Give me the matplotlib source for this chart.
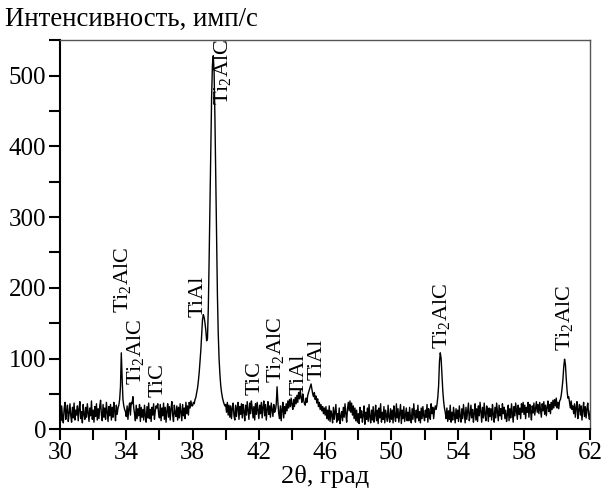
import numpy as np
import matplotlib.pyplot as plt

# measurement grid: 30..62 deg, step 0.05
two_theta = np.round(np.arange(30.0, 62.0001, 0.05), 2)

# intensity, one row per degree (20 points each)
intensity = [
    24, 12, 33, 18, 9, 29, 38, 14, 26, 34, 11, 22, 36, 19, 10, 31, 16, 37, 13, 27,  # 30
    20, 33, 12, 29, 39, 15, 25, 9, 35, 21, 14, 31, 17, 36, 23, 11, 30, 19, 40, 14,  # 31
    27, 10, 32, 18, 36, 13, 29, 15, 33, 41, 20, 12, 35, 17, 30, 14, 38, 24, 11, 32,  # 32
    19, 35, 13, 31, 17, 38, 26, 12, 34, 21, 30, 34, 42, 60, 108, 72, 42, 33, 28, 25,  # 33
    18, 33, 14, 29, 37, 20, 38, 36, 46, 30, 22, 12, 34, 15, 29, 19, 35, 11, 31, 17,  # 34
    28, 13, 34, 19, 10, 32, 16, 37, 15, 28, 11, 31, 20, 36, 14, 26, 33, 30, 36, 22,  # 35
    16, 35, 12, 30, 19, 37, 14, 31, 10, 26, 36, 17, 32, 13, 29, 39, 20, 11, 34, 22,  # 36
    18, 33, 13, 31, 16, 36, 24, 12, 35, 19, 30, 15, 38, 22, 33, 20, 38, 30, 40, 33,  # 37
    33, 38, 36, 42, 45, 52, 58, 68, 80, 95, 112, 135, 155, 162, 158, 150, 140, 125, 128, 170,  # 38
    240, 320, 400, 470, 515, 528, 505, 440, 360, 270, 190, 135, 100, 78, 62, 52, 45, 40, 36, 33,  # 39
    35, 24, 38, 20, 34, 17, 33, 15, 30, 37, 19, 13, 34, 18, 31, 38, 14, 32, 21, 36,  # 40
    16, 35, 25, 12, 34, 20, 39, 27, 14, 37, 22, 40, 30, 16, 32, 13, 36, 21, 38, 26,  # 41
    15, 34, 22, 38, 16, 31, 40, 19, 35, 13, 28, 39, 21, 33, 17, 37, 27, 18, 35, 24,  # 42
    27, 35, 60, 38, 22, 15, 33, 12, 28, 38, 16, 32, 22, 36, 26, 40, 30, 42, 32, 44,  # 43
    35, 28, 42, 32, 45, 36, 48, 38, 52, 43, 55, 45, 38, 50, 42, 36, 34, 44, 38, 48,  # 44
    52, 56, 60, 64, 57, 50, 46, 52, 42, 47, 37, 43, 32, 38, 28, 35, 26, 32, 22, 30,  # 45
    20, 32, 15, 27, 13, 33, 11, 26, 21, 9, 31, 14, 25, 35, 10, 22, 13, 30, 8, 19,  # 46
    25, 12, 31, 17, 36, 22, 10, 29, 38, 26, 40, 24, 37, 20, 33, 15, 30, 12, 27, 10,  # 47
    22, 8, 31, 16, 26, 10, 20, 33, 7, 24, 14, 30, 11, 35, 17, 9, 27, 13, 32, 10,  # 48
    20, 34, 12, 27, 8, 30, 16, 36, 10, 24, 14, 32, 9, 27, 19, 11, 34, 17, 10, 29,  # 49
    14, 27, 9, 33, 19, 11, 36, 16, 29, 10, 23, 35, 8, 27, 15, 32, 11, 21, 30, 12,  # 50
    24, 12, 31, 17, 9, 29, 14, 36, 20, 10, 27, 16, 34, 12, 25, 9, 30, 15, 32, 19,  # 51
    12, 27, 17, 35, 10, 29, 19, 14, 36, 22, 31, 15, 27, 33, 28, 35, 45, 62, 95, 108,  # 52
    100, 78, 55, 40, 30, 24, 15, 30, 11, 26, 14, 34, 10, 24, 13, 31, 20, 9, 29, 15,  # 53
    27, 11, 33, 18, 10, 29, 15, 35, 22, 9, 31, 14, 26, 37, 12, 20, 34, 16, 28, 10,  # 54
    22, 36, 13, 29, 11, 33, 19, 38, 25, 10, 31, 16, 37, 21, 12, 33, 26, 11, 30, 18,  # 55
    29, 13, 35, 21, 10, 31, 16, 37, 25, 12, 34, 19, 29, 14, 36, 22, 31, 15, 27, 11,  # 56
    20, 34, 12, 29, 16, 36, 23, 10, 32, 19, 37, 25, 14, 34, 21, 30, 15, 36, 24, 38,  # 57
    21, 34, 15, 31, 24, 38, 17, 35, 26, 13, 33, 23, 37, 20, 30, 39, 24, 35, 22, 38,  # 58
    27, 17, 36, 26, 39, 21, 34, 19, 31, 40, 25, 35, 22, 38, 28, 41, 30, 42, 33, 44,  # 59
    30, 38, 29, 40, 42, 48, 58, 70, 88, 99, 92, 72, 55, 44, 46, 38, 30, 40, 28, 33,  # 60
    22, 36, 17, 31, 39, 15, 28, 35, 20, 33, 13, 27, 38, 18, 32, 16, 29, 37, 21, 14,  # 61
    26,                                                                              # 62
]

# phase labels: text, position (deg), bottom of text (counts)
phase_names = ["Ti$_2$AlC", "Ti$_2$AlC", "TiC", "TiAl", "Ti$_2$AlC", "TiC",
               "Ti$_2$AlC", "TiAl", "TiAl", "Ti$_2$AlC", "Ti$_2$AlC"]
phase_pos = [33.8, 34.55, 35.9, 38.35, 39.8, 41.75, 43.0, 44.4, 45.5, 53.0, 60.45]
phase_y = [165, 63, 46, 159, 458, 49, 66, 49, 70, 113, 110]

x_major = [30, 34, 38, 42, 46, 50, 54, 58, 62]
x_minor = [32, 36, 40, 44, 48, 52, 56, 60]

plt.rcParams['font.family'] = ['Liberation Serif', 'DejaVu Serif']
plt.rcParams['mathtext.fontset'] = 'custom'
plt.rcParams['mathtext.rm'] = 'Liberation Serif'
plt.rcParams['mathtext.it'] = 'Liberation Serif:italic'

fig = plt.figure(figsize=(6.06, 4.90), dpi=100)
ax = fig.add_axes([0.099, 0.124, 0.875, 0.794])

ax.plot(two_theta, intensity, color='black', linewidth=1.0)

for name, x, y in zip(phase_names, phase_pos, phase_y):
    ax.text(x, y, name, rotation=90, ha='center', va='bottom', fontsize=16)

ax.set_xlim(30, 62)
ax.set_ylim(0, 550)
ax.set_xticks(x_major)
ax.set_xticks(x_minor, minor=True)
ax.set_yticks(range(0, 501, 100))
ax.set_yticks(range(50, 551, 100), minor=True)
ax.tick_params(which='both', direction='out', width=1.5, labelsize=18, length=8)
ax.tick_params(axis='x', pad=1)
ax.tick_params(axis='y', pad=2)
for side in ['left', 'bottom']:
    ax.spines[side].set_linewidth(1.5)
for side in ['top', 'right']:
    ax.spines[side].set_linewidth(1.0)
    ax.spines[side].set_color('#555555')

fig.text(0.536, 0.004, "2θ, град", fontsize=19, ha='center', va='bottom')
fig.text(0.008, 0.985, "Интенсивность, имп/с", fontsize=19.3, ha='left', va='top')

fig.savefig("out.png", dpi=100)
